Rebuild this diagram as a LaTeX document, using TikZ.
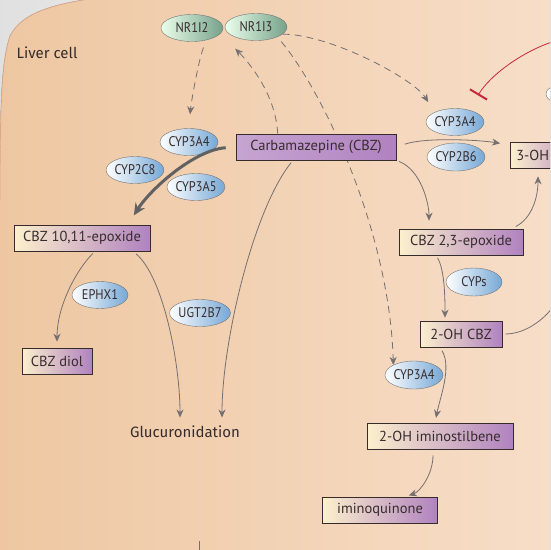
\documentclass[tikz,border=0pt]{standalone}
\usepackage{fontspec}
\setmainfont{PT Sans}
\newfontfamily\enzfont{PT Sans}[FakeStretch=0.88]
\newfontfamily\handfont{Fira Sans}
\usepackage{xcolor}
\usetikzlibrary{positioning,arrows.meta,shapes.geometric}

\definecolor{cellleft}{RGB}{238,199,162}
\definecolor{cellright}{RGB}{247,222,200}
\definecolor{celledge}{RGB}{215,170,140}
\definecolor{enzblue}{RGB}{118,168,214}
\definecolor{nrgreen}{RGB}{118,162,138}
\definecolor{boxcream}{RGB}{252,240,205}
\definecolor{boxpurple}{RGB}{176,130,192}
\definecolor{linegray}{RGB}{118,112,112}
\definecolor{inhibred}{RGB}{200,40,58}
\definecolor{inkdark}{RGB}{55,44,44}

\begin{document}
\begin{tikzpicture}[x=1pt, y=-1pt,
  enzyme/.style={ellipse, draw=black!55, left color=white, right color=enzblue,
    minimum width=56pt, minimum height=27pt, inner sep=0pt,
    font=\enzfont\fontsize{14}{14}\selectfont, text=inkdark},
  receptor/.style={enzyme, left color=green!8!white, right color=nrgreen,
    minimum width=62pt},
  metab/.style={rectangle, draw=inkdark, semithick, left color=boxcream,
    right color=boxpurple, minimum height=26pt, inner sep=0pt,
    font=\fontsize{14.5}{15}\selectfont, text=inkdark},
  hand/.style={font=\handfont\fontsize{15}{16}\selectfont, text=inkdark},
  flow/.style={draw=linegray, thick, -{Stealth[length=8pt,width=7pt,inset=2.5pt]}},
  induce/.style={flow, dash pattern=on 7pt off 5pt},
  main/.style={draw=black!62, line width=3pt,
    -{Stealth[length=12pt,width=11pt,inset=4pt]}}
]
\useasboundingbox (0,0) rectangle (550,550);
\clip (0,0) rectangle (550,550);

% outside and cell body
\fill[left color=black!12, right color=white] (0,0) rectangle (550,550);
\fill[left color=cellleft, right color=cellright]
  (0,552) -- (0,200) .. controls (0,95) and (2,60) .. (10,36)
  .. controls (22,12) and (55,4) .. (96,-2) -- (552,-2) -- (552,552) -- cycle;
\draw[celledge, thick] (0,200) .. controls (0,95) and (2,60) .. (10,36)
  .. controls (22,12) and (55,4) .. (96,-2);

\node[hand] (liver) at (47,53) {Liver cell};

% receptors and enzymes
\node[receptor] (nr2) at (192,28) {NR1I2};
\node[receptor] (nr3) at (256,27) {NR1I3};
\node[enzyme] (c3a4l) at (189,142) {CYP3A4};
\node[enzyme] (c2c8) at (135,170) {CYP2C8};
\node[enzyme] (c3a5) at (196,187) {CYP3A5};
\node[enzyme] (ephx) at (100,295) {EPHX1};
\node[enzyme, minimum width=60pt] (ugt) at (200,313) {UGT2B7};
\node[enzyme] (c3a4r) at (455,122) {CYP3A4};
\node[enzyme, minimum height=28pt] (c2b6) at (456,157) {CYP2B6};
\node[enzyme, minimum height=28pt] (cyps) at (474,282) {CYPs};
\node[enzyme, minimum height=28pt] (c3a4b) at (414,375) {CYP3A4};
\node[enzyme, minimum width=60pt, minimum height=25pt] (offenz) at (576,94) {};

% long dashed arrow runs behind the CBZ box
\draw[induce, shorten <=6pt] (nr3.-25) .. controls +(45,54) and +(-4,-135) .. (c3a4b.north west);

% metabolites
\node[metab, minimum width=160pt, left color=boxpurple!72!white] (cbz) at (316,147) {Carbamazepine (CBZ)};
\node[metab, minimum width=136pt] (epo) at (82,238) {CBZ 10,11-epoxide};
\node[metab, minimum width=70pt] (diol) at (57,361) {CBZ diol};
\node[hand] (gluc) at (185,432) {Glucuronidation};
\node[metab, anchor=west, inner xsep=6pt, text width=66pt, align=left] (oh3) at (510,155) {3-OH};
\node[metab, minimum width=124pt] (epo23) at (461,242) {CBZ 2,3-epoxide};
\node[metab, minimum width=82pt] (oh2) at (461,334) {2-OH CBZ};
\node[metab, minimum width=146pt] (imino) at (440,436) {2-OH iminostilbene};
\node[metab, minimum width=115pt] (quin) at (380,510) {iminoquinone};

\coordinate (redsrc) at (552,42);
\coordinate (offright) at (560,296);
\coordinate (botA) at (199,541);
\coordinate (botB) at (199,552);

% induction
\draw[induce, shorten <=8pt, shorten >=14pt] (nr2.-40) .. controls +(-8,20) and +(2,-25) .. (c3a4l.north);
\draw[induce, shorten >=17pt] ([xshift=42pt]cbz.north west) .. controls +(-2,-40) and +(25,25) .. (nr3.south west -| nr2.east);
\draw[induce, shorten >=12pt] (nr3.-15) .. controls +(48,0) and +(-20,-33) .. (c3a4r.north west);

% metabolism
\draw[main, shorten <=10pt, shorten >=11pt] (cbz.west) .. controls +(-42,3) and +(22,-35) .. ([xshift=46pt]epo.north);
\draw[flow, shorten <=9pt, shorten >=10pt] (cbz.east) .. controls +(30,-10) and +(-30,-5) .. ([yshift=10pt]oh3.west);
\draw[flow, shorten <=3pt, shorten >=8pt] (cbz.south east) .. controls +(25,10) and +(0,-25) .. ([xshift=-32pt]epo23.north);
\draw[flow, shorten <=5pt, shorten >=8pt] ([xshift=-12pt]epo23.north east) .. controls +(20,-10) and +(0,30) .. ([xshift=28pt]oh3.south west);
\draw[flow, shorten <=3pt, shorten >=3pt] ([xshift=-25pt]epo23.south) .. controls +(9,15) and +(0,-20) .. ([xshift=-16pt]oh2.north);
\draw[flow, shorten <=4pt, shorten >=5pt] ([xshift=-21pt]oh2.south) .. controls +(12,20) and +(5,-25) .. ([xshift=-5pt]imino.north);
\draw[flow, shorten <=6pt, shorten >=4pt] ([xshift=-7pt]imino.south) .. controls +(0,25) and +(15,-5) .. ([xshift=25pt]quin.north);
\draw[flow, shorten <=3pt, shorten >=6pt] ([xshift=13pt]epo.south) .. controls +(-20,20) and +(0,-40) .. (diol.north);
\draw[flow, shorten <=4pt, shorten >=5pt] ([xshift=51pt]epo.south) .. controls +(30,25) and +(0,-60) .. ([xshift=-5pt]gluc.north);
\draw[flow, shorten <=3pt, shorten >=5pt] ([xshift=-23pt]cbz.south) .. controls +(-40,50) and +(0,-80) .. ([xshift=37pt]gluc.north);
\draw[linegray, thick, shorten <=3pt] (oh2.east) .. controls +(25,0) and +(-10,20) .. (offright);
\draw[inhibred, thick, -{Bar[width=20pt,line width=2pt]}] (redsrc) .. controls +(-30,10) and +(12,-20) .. ([xshift=23pt,yshift=13pt]c3a4r.north);
\draw[linegray, thick] (botA) -- (botB);
\end{tikzpicture}
\end{document}
